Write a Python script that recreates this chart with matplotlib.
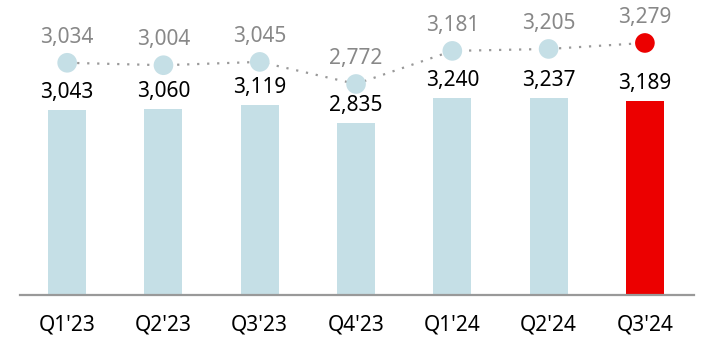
import matplotlib
matplotlib.use("Agg")
import matplotlib.pyplot as plt

quarters = ["Q1'23", "Q2'23", "Q3'23", "Q4'23", "Q1'24", "Q2'24", "Q3'24"]
bar_values = [3043, 3060, 3119, 2835, 3240, 3237, 3189]
line_values = [3034, 3004, 3045, 2772, 3181, 3205, 3279]

plt.rcParams['font.family'] = ['Noto Sans', 'DejaVu Sans']

light_blue = '#c5dfe6'
red = '#ec0000'
bar_colors = [light_blue] * (len(quarters) - 1) + [red]
dot_colors = [light_blue] * (len(quarters) - 1) + [red]

fig = plt.figure(figsize=(7.14, 3.54), dpi=100)
ax = fig.add_axes([0.028, 0.1667, 0.944, 0.8333])
x = list(range(len(quarters)))

# bars from zero
ax.bar(x, bar_values, width=0.395, color=bar_colors, zorder=2)
ax.set_xlim(-0.49, 6.51)
ax.set_ylim(0, 4852)
for i, v in enumerate(bar_values):
    ax.annotate(f"{v:,}", (i, v), xytext=(0, 5), textcoords='offset points',
                ha='center', va='bottom', fontsize=15, color='black')

for s in ['top', 'right', 'left']:
    ax.spines[s].set_visible(False)
ax.spines['bottom'].set_color('#999999')
ax.spines['bottom'].set_linewidth(1.6)
ax.set_yticks([])
ax.set_xticks(x)
ax.set_xticklabels(quarters, fontsize=15)
ax.tick_params(axis='x', length=0, pad=14)

# line on its own scale
ax2 = ax.twinx()
ax2.set_ylim(164, 3810)
ax2.plot(x, line_values, linestyle=(0, (1, 3.5)), color='#999999', linewidth=1.6, zorder=1)
ax2.scatter(x, line_values, s=200, c=dot_colors, zorder=3, linewidths=0)
for i, v in enumerate(line_values):
    ax2.annotate(f"{v:,}", (i, v), xytext=(0, 11), textcoords='offset points',
                 ha='center', va='bottom', fontsize=15, color='#888888')
ax2.axis('off')

fig.savefig('out.png', dpi=100)
